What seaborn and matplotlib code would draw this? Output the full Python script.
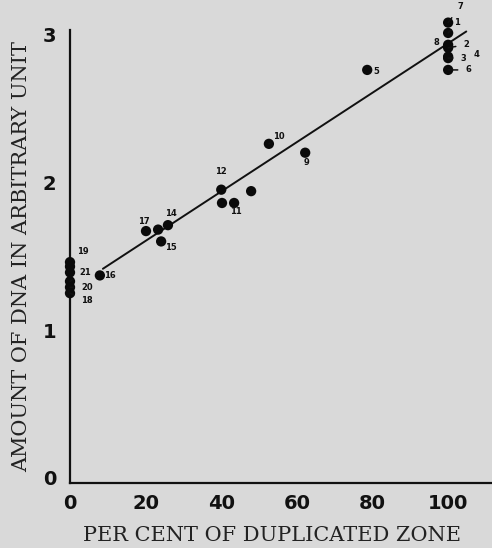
import matplotlib
matplotlib.use("Agg")
import matplotlib.pyplot as plt
import pandas as pd
import seaborn as sns

# per cent of duplicated zone vs amount of DNA (arbitrary unit)
pct = [100, 100, 100, 100, 100, 100, 100, 78.6, 52.6, 62.2,
       40.0, 47.9, 40.2, 43.4, 20.1, 23.3, 25.9, 24.1, 7.9,
       0, 0, 0, 0, 0, 0]
dna = [3.08, 3.01, 2.93, 2.91, 2.85, 2.84, 2.76, 2.76, 2.26, 2.20,
       1.95, 1.94, 1.86, 1.86, 1.67, 1.68, 1.71, 1.60, 1.37,
       1.46, 1.43, 1.39, 1.33, 1.29, 1.25]
names = ["7", "1", "8", "2", "4", "3", "6", "5", "10", "9",
         "12", "", "", "11", "17", "", "14", "15", "16",
         "19", "", "", "21", "20", "18"]

# fitted line
fit_pct = [8.7, 104.8]
fit_dna = [1.415, 3.02]

x_ticks = [0, 20, 40, 60, 80, 100]
y_ticks = [0, 1, 2, 3]

# label offsets in pixels and whether a leader line is drawn
offsets = {"7": (12, 16, True), "1": (9, 10, True), "8": (-12, 2, False),
           "2": (18, 3, True), "4": (28, 2, False), "3": (15, 0, True),
           "6": (20, 0, True), "5": (9, -2, False), "10": (10, 7, True),
           "9": (1, -10, False), "12": (0, 18, False), "11": (2, -9, False),
           "17": (-2, 10, False), "14": (3, 12, False), "15": (10, -6, False),
           "16": (10, 0, False), "19": (13, 11, False), "21": (15, 9, True),
           "20": (17, 0, True), "18": (17, -7, True)}

df = pd.DataFrame({"pct": pct, "dna": dna, "name": names})

bg = "#d9d9d9"
sns.set_style("white")
fig = plt.figure(figsize=(4.92, 5.48), dpi=100, facecolor=bg)
ax = fig.add_axes([70 / 492, 65 / 548, 422 / 492, 453 / 548])
ax.set_facecolor(bg)

ax.plot(fit_pct, fit_dna, color="#111111", lw=1.4, clip_on=False)
sns.scatterplot(data=df, x="pct", y="dna", ax=ax, color="#0a0a0a",
                s=55, edgecolor="none", clip_on=False, zorder=3)

for _, r in df.iterrows():
    if not r["name"]:
        continue
    dx, dy, lead = offsets[r["name"]]
    ax.annotate(r["name"], (r["pct"], r["dna"]),
                xytext=(dx * 0.72, dy * 0.72), textcoords="offset points",
                ha="center", va="center", fontsize=6, fontweight="bold",
                color="#111111", annotation_clip=False,
                arrowprops=dict(arrowstyle="-", lw=1.1, color="#111111",
                                shrinkA=3, shrinkB=0) if lead else None)

ax.set_xlim(0, 111.6)
ax.set_ylim(-0.034, 3.03)
ax.set_xticks(x_ticks)
ax.set_yticks(y_ticks)
ax.tick_params(length=0, labelsize=14, colors="#111111")
ax.tick_params(axis="x", pad=8)
ax.tick_params(axis="y", pad=10)
for lab in ax.get_xticklabels() + ax.get_yticklabels():
    lab.set_fontweight("bold")

sns.despine(ax=ax)
for s in ["left", "bottom"]:
    ax.spines[s].set_linewidth(1.6)
    ax.spines[s].set_color("#111111")

ax.set_xlabel("PER CENT OF DUPLICATED ZONE", family="DejaVu Serif",
              fontsize=15, color="#222222")
ax.xaxis.set_label_coords(0.479, -0.095)
ax.set_ylabel("AMOUNT OF DNA IN ARBITRARY UNIT", family="DejaVu Serif",
              fontsize=15, color="#222222", labelpad=8)

fig.savefig("out.png", dpi=100, facecolor=bg)
